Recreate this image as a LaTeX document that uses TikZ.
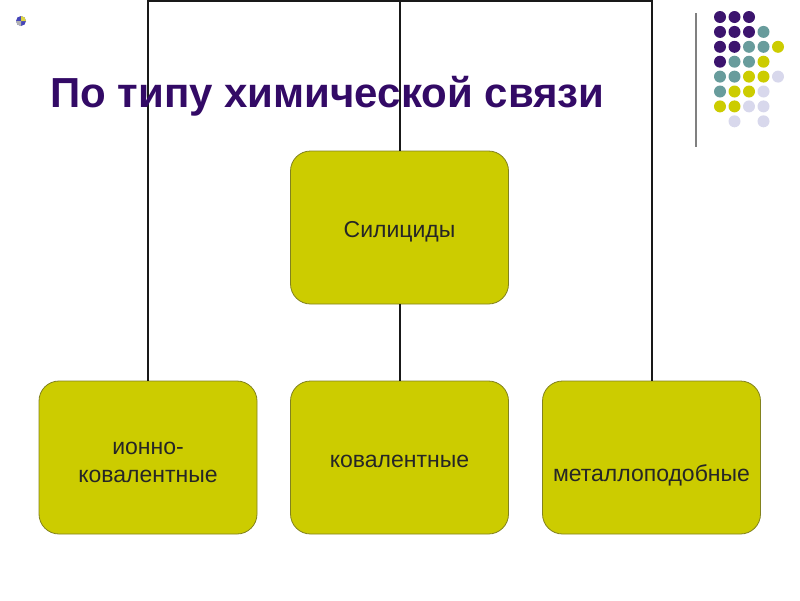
\documentclass[tikz,border=0pt]{standalone}
\usepackage{fontspec}
\setmainfont{Liberation Sans}
\usepackage{xcolor}
\usepackage{tikz}

\definecolor{boxfill}{RGB}{204,204,0}
\definecolor{boxline}{RGB}{130,130,30}
\definecolor{titlecol}{RGB}{51,10,102}
\definecolor{purpledot}{RGB}{60,20,110}
\definecolor{tealdot}{RGB}{104,156,156}
\definecolor{yellowdot}{RGB}{204,204,0}
\definecolor{lilacdot}{RGB}{216,216,236}

\tikzset{
  box/.style={draw=boxline, line width=0.8pt, fill=boxfill, rounded corners=20pt,
    minimum width=218pt, minimum height=153pt, align=center,
    font=\fontsize{23}{28}\selectfont, text=black!85, text depth=0pt},
  link/.style={line width=2pt, draw=black!90},
  dotP/.style={fill=purpledot},
  dotT/.style={fill=tealdot},
  dotY/.style={fill=yellowdot},
  dotL/.style={fill=lilacdot},
  dotN/.style={fill=none},
}

\begin{document}
\begin{tikzpicture}[x=1pt,y=-1pt]
\useasboundingbox (0,0) rectangle (800,600);

% значок слева вверху
\fill[blue!45!gray] (21,21) circle (5);
\fill[yellow!70!gray] (21,21) -- (26,21) arc (0:-90:5) -- cycle;
\fill[gray!60] (21,21) -- (16,21) arc (180:90:5) -- cycle;

% точки справа вверху
\draw[gray, line width=1.5pt] (696,13) -- (696,147);
\foreach \row/\cols in {0/{P,P,P,N,N}, 1/{P,P,P,T,N}, 2/{P,P,T,T,Y}, 3/{P,T,T,Y,N},
                        4/{T,T,Y,Y,L}, 5/{T,Y,Y,L,N}, 6/{Y,Y,L,L,N}, 7/{N,L,N,L,N}} {
  \foreach \c [count=\i from 0] in \cols {
    \path[dot\c] (720+14.5*\i, 17+14.9*\row) circle (6);
  }
}

% узлы
\node[box, text height=19pt] (sil) at (399.5,227.5) {Силициды};
\node[box, text height=49pt] (ion) at (148,457.5) {ионно-\\ковалентные};
\node[box, text height=19pt] (cov) at (399.5,457.5) {ковалентные};
\node[box, text height=47pt] (met) at (651.5,457.5) {металлоподобные};

% соединения
\coordinate (bar) at (399.5,1);
\draw[link] (sil.north) -- (bar);
\draw[link] (ion.north) |- (bar) -| (met.north);
\draw[link] (sil.south) -- (cov.north);

% заголовок
\node[anchor=base west, text=titlecol, font=\fontsize{42}{48}\bfseries\selectfont,
  inner sep=0pt] (title) at (50,107) {По типу химической связи};
\end{tikzpicture}
\end{document}
